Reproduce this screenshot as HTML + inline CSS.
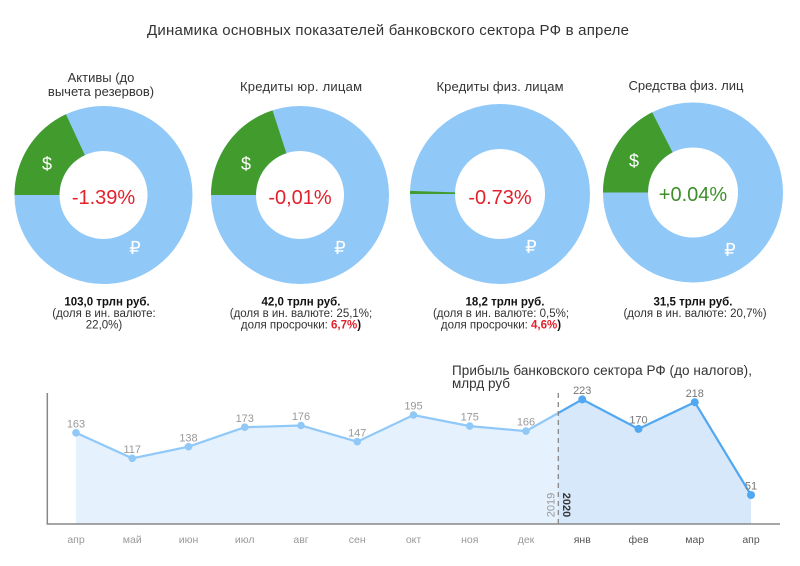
<!DOCTYPE html>
<html><head><meta charset="utf-8"><style>
html,body{margin:0;padding:0;background:#fff;}
svg{display:block;font-family:"Liberation Sans",sans-serif;}
</style></head><body>
<svg width="800" height="566" viewBox="0 0 800 566" xmlns="http://www.w3.org/2000/svg">
<rect width="800" height="566" fill="#fff"/>
<text x="388" y="35" font-size="15" fill="#333" text-anchor="middle" textLength="482">Динамика основных показателей банковского сектора РФ в апреле</text>

<!-- donut titles -->
<g font-size="13" fill="#333" text-anchor="middle">
<text x="101" y="82">Активы (до</text>
<text x="101" y="96">вычета резервов)</text>
<text x="301" y="91" textLength="122">Кредиты юр. лицам</text>
<text x="500" y="91" textLength="127">Кредиты физ. лицам</text>
<text x="686" y="90" textLength="115">Средства физ. лиц</text>
</g>

<!-- donut 1 -->
<circle cx="103.5" cy="195" r="66.5" fill="none" stroke="#90c8f8" stroke-width="45"/>
<path d="M14.5,195 A89,89 0 0 1 65.9,114.3 L84.9,155.1 A44,44 0 0 0 59.5,195 Z" fill="#419c2d"/>
<!-- donut 2 -->
<circle cx="300" cy="195" r="66.5" fill="none" stroke="#90c8f8" stroke-width="45"/>
<path d="M211,195 A89,89 0 0 1 272.5,110.4 L286.4,153.2 A44,44 0 0 0 256,195 Z" fill="#419c2d"/>
<!-- donut 3 -->
<circle cx="500" cy="194" r="67.5" fill="none" stroke="#90c8f8" stroke-width="45"/>
<path d="M410,194 A90,90 0 0 1 410.1,190.9 L455,192.4 A45,45 0 0 0 455,194 Z" fill="#419c2d"/>
<!-- donut 4 -->
<circle cx="693" cy="192.5" r="67.5" fill="none" stroke="#90c8f8" stroke-width="45"/>
<path d="M603,192.5 A90,90 0 0 1 652.1,112.3 L672.6,152.4 A45,45 0 0 0 648,192.5 Z" fill="#419c2d"/>

<!-- currency symbols -->
<g font-size="18" fill="#fff" text-anchor="middle">
<text x="47" y="170">$</text>
<text x="135" y="254">₽</text>
<text x="246" y="170">$</text>
<text x="340" y="254">₽</text>
<text x="531" y="253">₽</text>
<text x="634" y="167">$</text>
<text x="730" y="256">₽</text>
</g>

<!-- center values -->
<g font-size="20" text-anchor="middle">
<text x="103.5" y="204" fill="#e3202b">-1.39%</text>
<text x="300" y="204" fill="#e3202b">-0,01%</text>
<text x="500" y="204" fill="#e3202b">-0.73%</text>
<text x="693" y="201" fill="#3e8f2a">+0.04%</text>
</g>

<!-- captions -->
<g font-size="11.5" fill="#333" text-anchor="middle">
<text x="107" y="305.5" font-weight="bold" fill="#111">103,0 трлн руб.</text>
<text x="104" y="317">(доля в ин. валюте:</text>
<text x="104" y="328.5">22,0%)</text>
<text x="301" y="305.5" font-weight="bold" fill="#111">42,0 трлн руб.</text>
<text x="301" y="317">(доля в ин. валюте: 25,1%;</text>
<text x="301" y="328.5">доля просрочки: <tspan font-weight="bold" fill="#e3202b">6,7%</tspan><tspan font-weight="bold" fill="#111">)</tspan></text>
<text x="505" y="305.5" font-weight="bold" fill="#111">18,2 трлн руб.</text>
<text x="501" y="317">(доля в ин. валюте: 0,5%;</text>
<text x="501" y="328.5">доля просрочки: <tspan font-weight="bold" fill="#e3202b">4,6%</tspan><tspan font-weight="bold" fill="#111">)</tspan></text>
<text x="693" y="305.5" font-weight="bold" fill="#111">31,5 трлн руб.</text>
<text x="695" y="317">(доля в ин. валюте: 20,7%)</text>
</g>

<!-- profit chart -->
<text x="452" y="375" font-size="13.5" fill="#333" textLength="300">Прибыль банковского сектора РФ (до налогов),</text>
<text x="452" y="388" font-size="13.5" fill="#333">млрд руб</text>

<path d="M76,524 L76,432.8 L132.25,458.3 L188.5,446.7 L244.75,427.2 L301,425.5 L357.25,441.7 L413.5,415 L469.75,426.1 L526,431.1 L558.3,413 L558.3,524 Z" fill="#e5f1fd"/>
<path d="M558.3,524 L558.3,413 L582.25,399.4 L638.5,428.9 L694.75,402.2 L751,495 L751,524 Z" fill="#d6e8fa"/>

<polyline points="76,432.8 132.25,458.3 188.5,446.7 244.75,427.2 301,425.5 357.25,441.7 413.5,415 469.75,426.1 526,431.1 558.3,413" fill="none" stroke="#90c8f8" stroke-width="2.2"/>
<polyline points="558.3,413 582.25,399.4 638.5,428.9 694.75,402.2 751,495" fill="none" stroke="#52a8f0" stroke-width="2.2"/>

<g fill="#90c8f8">
<circle cx="76" cy="432.8" r="3.8"/><circle cx="132.25" cy="458.3" r="3.8"/><circle cx="188.5" cy="446.7" r="3.8"/>
<circle cx="244.75" cy="427.2" r="3.8"/><circle cx="301" cy="425.5" r="3.8"/><circle cx="357.25" cy="441.7" r="3.8"/>
<circle cx="413.5" cy="415" r="3.8"/><circle cx="469.75" cy="426.1" r="3.8"/><circle cx="526" cy="431.1" r="3.8"/>
</g>
<g fill="#52a8f0">
<circle cx="582.25" cy="399.4" r="4"/><circle cx="638.5" cy="428.9" r="4"/><circle cx="694.75" cy="402.2" r="4"/><circle cx="751" cy="495" r="4"/>
</g>

<g font-size="11" fill="#999" text-anchor="middle">
<text x="76" y="427.4">163</text><text x="132.25" y="452.9">117</text><text x="188.5" y="441.3">138</text>
<text x="244.75" y="421.8">173</text><text x="301" y="420.1">176</text><text x="357.25" y="436.3">147</text>
<text x="413.5" y="409.6">195</text><text x="469.75" y="420.7">175</text><text x="526" y="425.7">166</text>
<text x="582.25" y="394" fill="#777">223</text><text x="638.5" y="423.5" fill="#777">170</text><text x="694.75" y="396.8" fill="#777">218</text><text x="751" y="489.6" fill="#777">51</text>
</g>

<line x1="558.3" y1="393" x2="558.3" y2="524" stroke="#888" stroke-width="1.3" stroke-dasharray="5,4"/>
<text transform="translate(554.5,505) rotate(-90)" font-size="11" fill="#999" text-anchor="middle">2019</text>
<text transform="translate(562.8,505) rotate(90)" font-size="11" font-weight="bold" fill="#333" text-anchor="middle">2020</text>

<line x1="47.3" y1="393" x2="47.3" y2="524" stroke="#888" stroke-width="1.5"/>
<line x1="46.5" y1="524" x2="780" y2="524" stroke="#888" stroke-width="1.5"/>

<g font-size="10.5" fill="#999" text-anchor="middle">
<text x="76" y="543">апр</text><text x="132.25" y="543">май</text><text x="188.5" y="543">июн</text>
<text x="244.75" y="543">июл</text><text x="301" y="543">авг</text><text x="357.25" y="543">сен</text>
<text x="413.5" y="543">окт</text><text x="469.75" y="543">ноя</text><text x="526" y="543">дек</text>
<text x="582.25" y="543" fill="#555">янв</text><text x="638.5" y="543" fill="#555">фев</text><text x="694.75" y="543" fill="#555">мар</text><text x="751" y="543" fill="#555">апр</text>
</g>
</svg>
</body></html>
